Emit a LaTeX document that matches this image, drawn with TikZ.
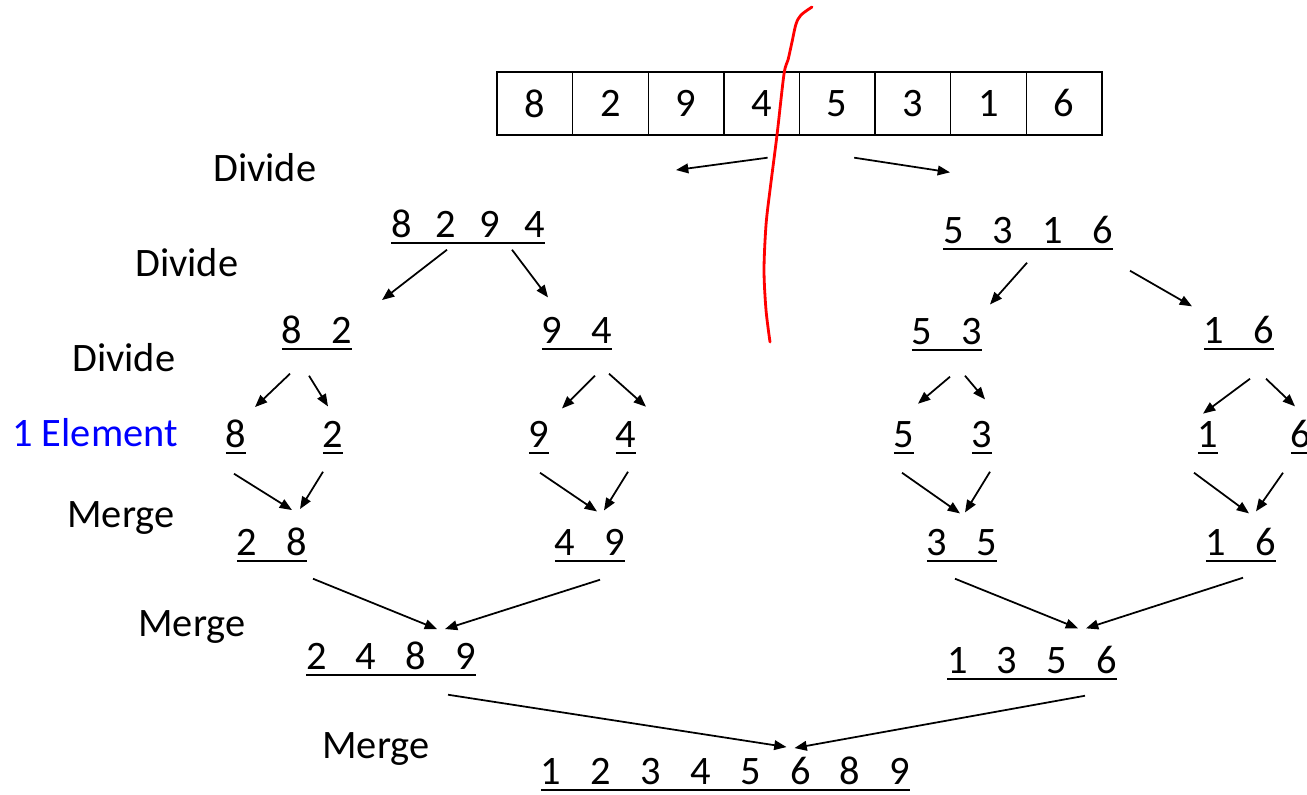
\documentclass[tikz,border=0pt]{standalone}
\usepackage{fontspec}
\setmainfont{Carlito}
\usepackage{tikz}
\usetikzlibrary{positioning, calc, arrows.meta}

% underline a list of values
\newcommand\listline[1]{\setbox0=\hbox{#1}\rlap{\rule[-4.2pt]{\wd0}{1.4pt}}\box0}
\newcommand\gap[1][16.7pt]{\hspace{#1}}

\begin{document}
\begin{tikzpicture}[
        x=0.02cm, y=-0.02cm,
        every node/.style={font=\fontsize{23}{27}\selectfont},
        cell/.style={rectangle, draw, line width=0.8pt, inner sep=0pt, minimum width=1.512cm, minimum height=1.26cm},
        list/.style={inner sep=0pt, anchor=base},
        stage/.style={inner sep=0pt, anchor=base west},
        arrow/.style={-{Triangle[length=7pt, width=5.5pt]}, line width=1pt}
    ]
        \useasboundingbox (0,0) rectangle (1307,794);

        % input array
        \foreach \v [count=\i] in {8,2,9,4,5,3,1,6}
            \node[cell] (c\i) at (459.2+75.6*\i, 103.5) {\v};

        % stage names
        \node[stage] (div1) at (213,181) {Divide};
        \node[stage] (div2) at (135,276) {Divide};
        \node[stage] (div3) at (72,371) {Divide};
        \node[stage, text=blue] (single) at (12,446) {1 Element};
        \node[stage] (mrg1) at (67,527) {Merge};
        \node[stage] (mrg2) at (138,636) {Merge};
        \node[stage] (mrg3) at (322,758) {Merge};

        % halves
        \node[list] (l8294) at (468,237) {\listline{8\gap[13.5pt]2\gap[13.5pt]9\gap[13.5pt]4}};
        \node[list] (l5316) at (1028,243) {\listline{5\gap3\gap1\gap6}};

        % quarters
        \node[list] (l82) at (317,343) {\listline{8\gap2}};
        \node[list] (l94) at (577,343) {\listline{9\gap4}};
        \node[list] (l53) at (947,344) {\listline{5\gap3}};
        \node[list] (l16) at (1239,343) {\listline{1\gap6}};

        % single elements
        \node[list] (s8) at (236,447) {\listline{8}};
        \node[list] (s2) at (333,447) {\listline{2}};
        \node[list] (s9) at (539,447) {\listline{9}};
        \node[list] (s4) at (626,447) {\listline{4}};
        \node[list] (s5) at (904,447) {\listline{5}};
        \node[list] (s3) at (982,447) {\listline{3}};
        \node[list] (s1) at (1208,447) {\listline{1}};
        \node[list] (s6) at (1301,447) {\listline{6}};

        % merged pairs
        \node[list] (m28) at (272,555) {\listline{2\gap8}};
        \node[list] (m49) at (590,555) {\listline{4\gap9}};
        \node[list] (m35) at (962,555) {\listline{3\gap5}};
        \node[list] (m16) at (1241,555) {\listline{1\gap6}};

        % merged halves
        \node[list] (m2489) at (391,669) {\listline{2\gap4\gap8\gap9}};
        \node[list] (m1356) at (1032,673) {\listline{1\gap3\gap5\gap6}};

        % result
        \node[list] (sorted) at (725.5,784) {\listline{1\gap2\gap3\gap4\gap5\gap6\gap8\gap9}};

        % divide
        \draw[arrow] ($(c4.south)+(6,22)$) -- ($(l8294.north)+(208,-39)$);
        \draw[arrow] ($(c5.south)+(17,22)$) -- ($(l5316.north)+(-78,-43)$);

        \draw[arrow] ($(l8294.south)+(-21,5)$) -- ($(l82.north)+(65,-15)$);
        \draw[arrow] ($(l8294.south)+(44,5)$) -- ($(l94.north)+(-29,-19)$);
        \draw[arrow] ($(l5316.south)+(-1,12)$) -- ($(l53.north)+(43,-13)$);
        \draw[arrow] ($(l5316.south)+(102,20)$) -- ($(l16.north)+(-47,-9)$);

        \draw[arrow] ($(l82.south)+(-27,23)$) -- ($(s8.north)+(19,-12)$);
        \draw[arrow] ($(l82.south)+(-8,25)$) -- ($(s2.north)+(-5,-14)$);
        \draw[arrow] ($(l94.south)+(18,25)$) -- ($(s9.north)+(23,-12)$);
        \draw[arrow] ($(l94.south)+(32,23)$) -- ($(s4.north)+(20,-14)$);
        \draw[arrow] ($(l53.south)+(3,25)$) -- ($(s5.north)+(14,-17)$);
        \draw[arrow] ($(l53.south)+(18,24)$) -- ($(s3.north)+(3,-21)$);
        \draw[arrow] ($(l16.south)+(11,28)$) -- ($(s1.north)+(-5,-7)$);
        \draw[arrow] ($(l16.south)+(27,28)$) -- ($(s6.north)+(-6,-13)$);

        % merge
        \draw[arrow] ($(s8.south)+(-2,19)$) -- ($(m28.north)+(20,-17)$);
        \draw[arrow] ($(s2.south)+(-10,17)$) -- ($(m28.north)+(28,-18)$);
        \draw[arrow] ($(s9.south)+(1,18)$) -- ($(m49.north)+(7,-17)$);
        \draw[arrow] ($(s4.south)+(2,17)$) -- ($(m49.north)+(14,-18)$);
        \draw[arrow] ($(s5.south)+(-2,18)$) -- ($(m35.north)+(-2,-15)$);
        \draw[arrow] ($(s3.south)+(8,17)$) -- ($(m35.north)+(3,-16)$);
        \draw[arrow] ($(s1.south)+(-14,18)$) -- ($(m16.north)+(8,-14)$);
        \draw[arrow] ($(s6.south)+(-18,18)$) -- ($(m16.north)+(15,-16)$);

        \draw[arrow] ($(m28.south)+(41,16)$) -- ($(m2489.north)+(46,-12)$);
        \draw[arrow] ($(m49.south)+(10,17)$) -- ($(m2489.north)+(54,-12)$);
        \draw[arrow] ($(m35.south)+(-7,16)$) -- ($(m1356.north)+(46,-17)$);
        \draw[arrow] ($(m16.south)+(2,15)$) -- ($(m1356.north)+(54,-17)$);

        \draw[arrow] ($(m2489.south)+(57,18)$) -- ($(sorted.north)+(61,-9)$);
        \draw[arrow] ($(m1356.south)+(53,15)$) -- ($(sorted.north)+(69,-8)$);

        % hand-drawn split mark
        \draw[red, line width=1.6pt, line cap=round, line join=round]
            plot[smooth, tension=0.5] coordinates {(812,7) (801,15) (796,24) (792,42) (788,60) (784,74) (777,135) (770,190) (766,225) (764,270) (766,310) (770,342)};
    \end{tikzpicture}
\end{document}
